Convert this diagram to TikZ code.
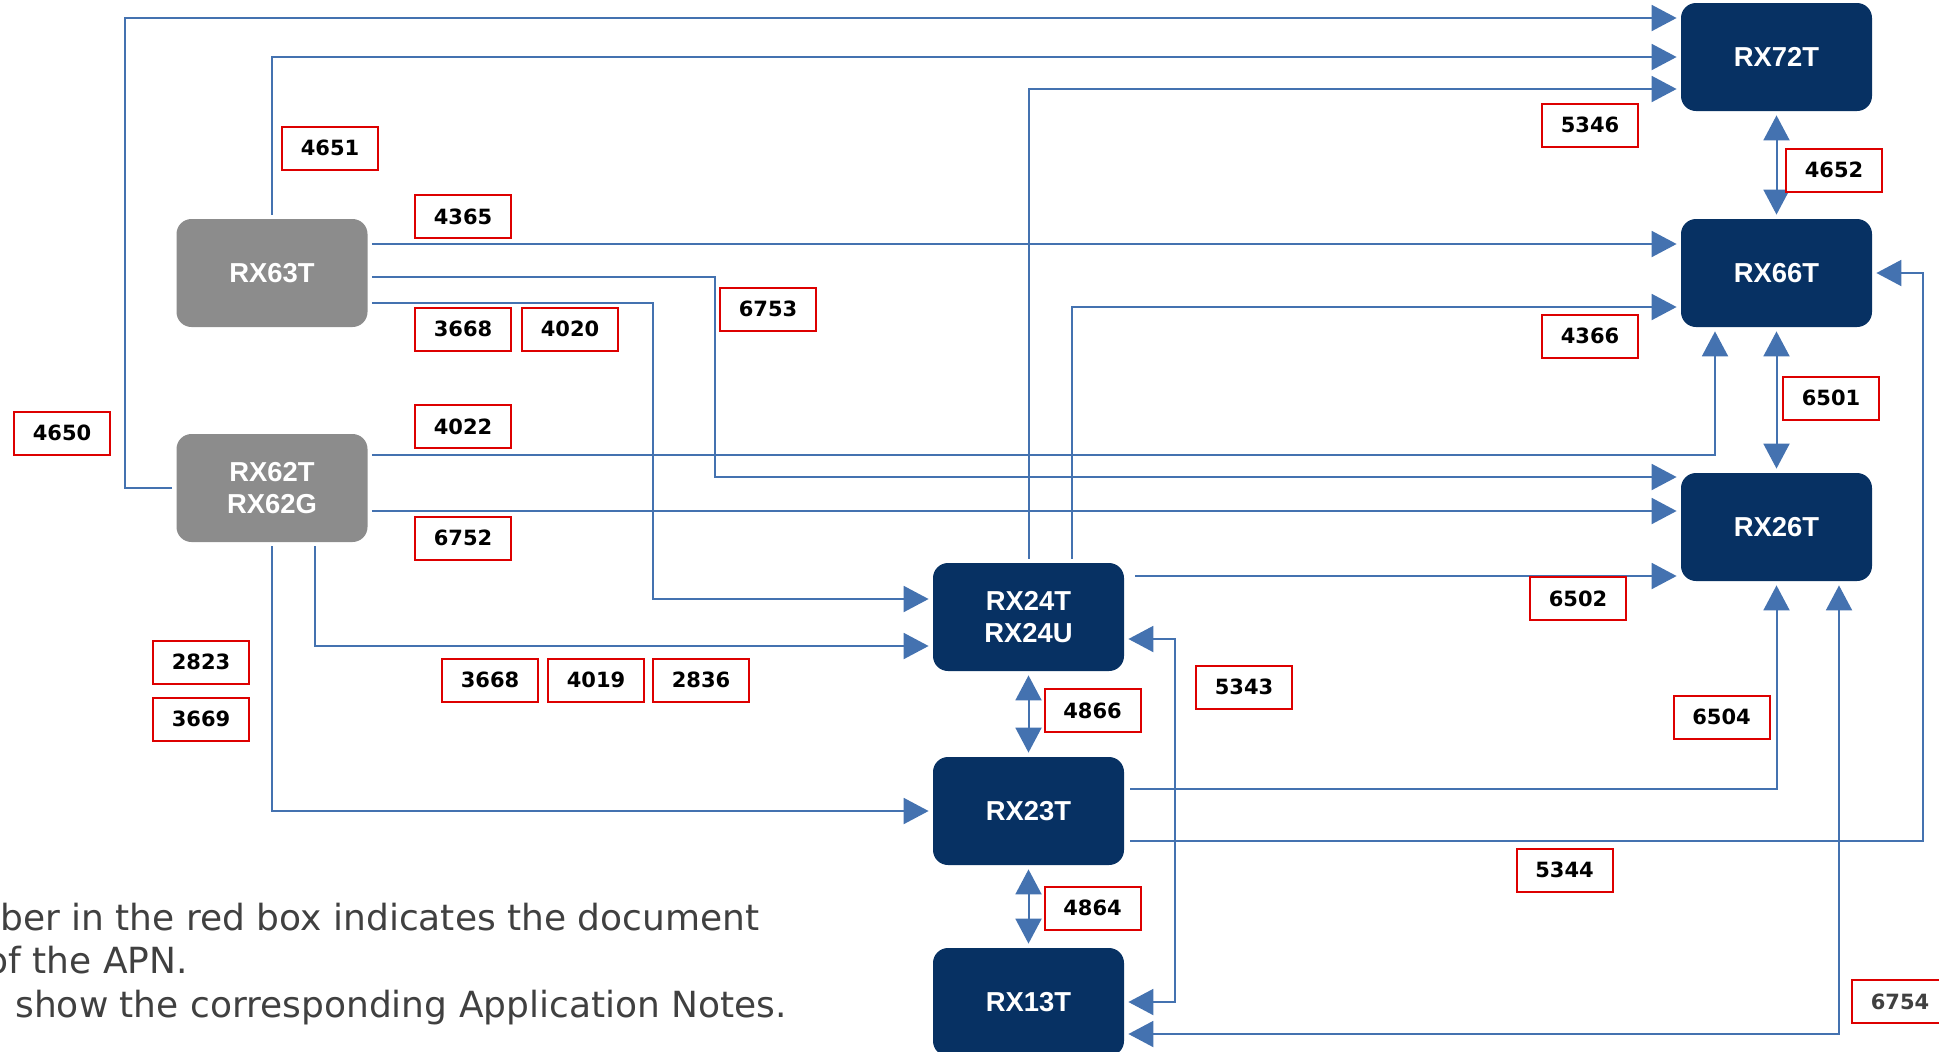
\documentclass[tikz,border=0pt]{standalone}
\usepackage{fontspec}
\setmainfont{DejaVu Sans}
\newfontfamily\chipfont{Liberation Sans}
\usetikzlibrary{positioning,calc,arrows.meta}
\definecolor{chipblue}{HTML}{073163}
\definecolor{chipgrey}{HTML}{8C8C8C}
\definecolor{linkblue}{HTML}{4472B0}
\definecolor{apnred}{HTML}{DD0000}
\definecolor{notegrey}{HTML}{404040}
\tikzset{
	chip/.style={rectangle, rounded corners=7.5pt, fill=chipblue, text=white,
		minimum width=95.5pt, minimum height=54pt, inner sep=0pt, align=center,
		font=\chipfont\bfseries\fontsize{13.7}{16}\selectfont},
	oldchip/.style={chip, fill=chipgrey},
	apn/.style={rectangle, draw=apnred, line width=1pt, fill=white, inner sep=0pt,
		minimum width=48pt, minimum height=21.5pt, font=\bfseries\fontsize{10.5}{12}\selectfont},
	link/.style={draw=linkblue, line width=1pt, ->, shorten >=2pt, shorten <=2pt},
	dlink/.style={link, <->},
	note/.style={anchor=base west, inner sep=0pt, text=notegrey, font=\fontsize{18}{22}\selectfont},
	>={Triangle[length=12.5pt,width=13pt]}
}
\begin{document}
\begin{tikzpicture}[x=0.5pt, y=-0.5pt]
		\useasboundingbox (0,0) rectangle (1939,1051);
		\clip (0,0) rectangle (1939,1051);
		% Bausteine
		\begin{scope}
			\node[oldchip] (rx63) at (272,273) {RX63T};
			\node[oldchip] (rx62) at (272,488) {RX62T\\RX62G};
			\node[chip] (rx72) at (1776.5,57) {RX72T};
			\node[chip] (rx66) at (1776.5,273) {RX66T};
			\node[chip] (rx26) at (1776.5,527) {RX26T};
			\node[chip] (rx24) at (1028.5,617) {RX24T\\RX24U};
			\node[chip] (rx23) at (1028.5,811) {RX23T};
			\node[chip] (rx13) at (1028.5,1002) {RX13T};
		\end{scope}
		% Verbindungen
		\draw[link] (rx62.west) -- ++(-51,0) |- ($(rx72.west)+(0,-39)$);
		\draw[link] (rx63.north) |- (rx72.west);
		\draw[link] (rx24.north) |- ($(rx72.west)+(0,32)$);
		\draw[dlink] (rx72.south) -- (rx66.north);
		\draw[link] ($(rx63.east)+(0,-29)$) -- ($(rx66.west)+(0,-29)$);
		\draw[link] ($(rx63.east)+(0,4)$) -- ++(347,0) |- ($(rx26.west)+(0,-50)$);
		\draw[link] ($(rx63.east)+(0,30)$) -- ++(285,0) |- ($(rx24.west)+(0,-18)$);
		\draw[link] ($(rx24.north)+(43.5,0)$) |- ($(rx66.west)+(0,34)$);
		\draw[link] ($(rx62.east)+(0,-33)$) -| ($(rx66.south)+(-61.5,0)$);
		\draw[link] ($(rx62.east)+(0,23)$) -- ($(rx26.west)+(0,-16)$);
		\draw[dlink] (rx66.south) -- (rx26.north);
		\draw[link] ($(rx24.east)+(7,-41)$) -- ($(rx26.west)+(0,49)$);
		\draw[link] ($(rx62.south)+(43,0)$) |- ($(rx24.west)+(0,29)$);
		\draw[link] (rx62.south) |- (rx23.west);
		\draw[dlink] (rx24.south) -- (rx23.north);
		\draw[link] ($(rx23.east)+(2,-22)$) -| (rx26.south);
		\draw[link] ($(rx23.east)+(2,30)$) -- ++(797,0) |- (rx66.east);
		\draw[dlink] (rx23.south) -- (rx13.north);
		\draw[dlink] ($(rx24.east)+(0,22)$) -- ++(51,0) |- (rx13.east);
		\draw[dlink] ($(rx26.south)+(62.5,0)$) |- ($(rx13.east)+(0,32)$);
		% Nummern
		\node[apn] (n4650) at (62,433) {4650};
		\node[apn] (n4651) at (330,148) {4651};
		\node[apn] (n5346) at (1590,125) {5346};
		\node[apn] (n4652) at (1834,170) {4652};
		\node[apn] (n4365) at (463,216.5) {4365};
		\node[apn] (n6753) at (768,309) {6753};
		\node[apn] (n3668a) at (463,329) {3668};
		\node[apn, right=4.5pt of n3668a] (n4020) {4020};
		\node[apn] (n4366) at (1590,336) {4366};
		\node[apn] (n4022) at (463,426.5) {4022};
		\node[apn] (n6752) at (463,538) {6752};
		\node[apn] (n6501) at (1831,398) {6501};
		\node[apn] (n6502) at (1578,598.5) {6502};
		\node[apn] (n3668b) at (490,680) {3668};
		\node[apn, right=4pt of n3668b] (n4019) {4019};
		\node[apn, right=3.5pt of n4019] (n2836) {2836};
		\node[apn] (n2823) at (201,662) {2823};
		\node[apn] (n3669) at (201,719) {3669};
		\node[apn] (n4866) at (1092.5,710.5) {4866};
		\node[apn] (n5343) at (1244,687) {5343};
		\node[apn] (n6504) at (1721.5,717) {6504};
		\node[apn] (n5344) at (1564.5,870) {5344};
		\node[apn] (n4864) at (1092.5,908) {4864};
		\node[apn, text=notegrey] (n6754) at (1900,1001.5) {6754};
		% Hinweis
		\node[note] (note1) at (0,930) {ber in the red box indicates the document};
		\node[note] (note2) at (-14,973) {of the APN.};
		\node[note] (note3) at (15,1017) {show the corresponding Application Notes.};
	\end{tikzpicture}
\end{document}
